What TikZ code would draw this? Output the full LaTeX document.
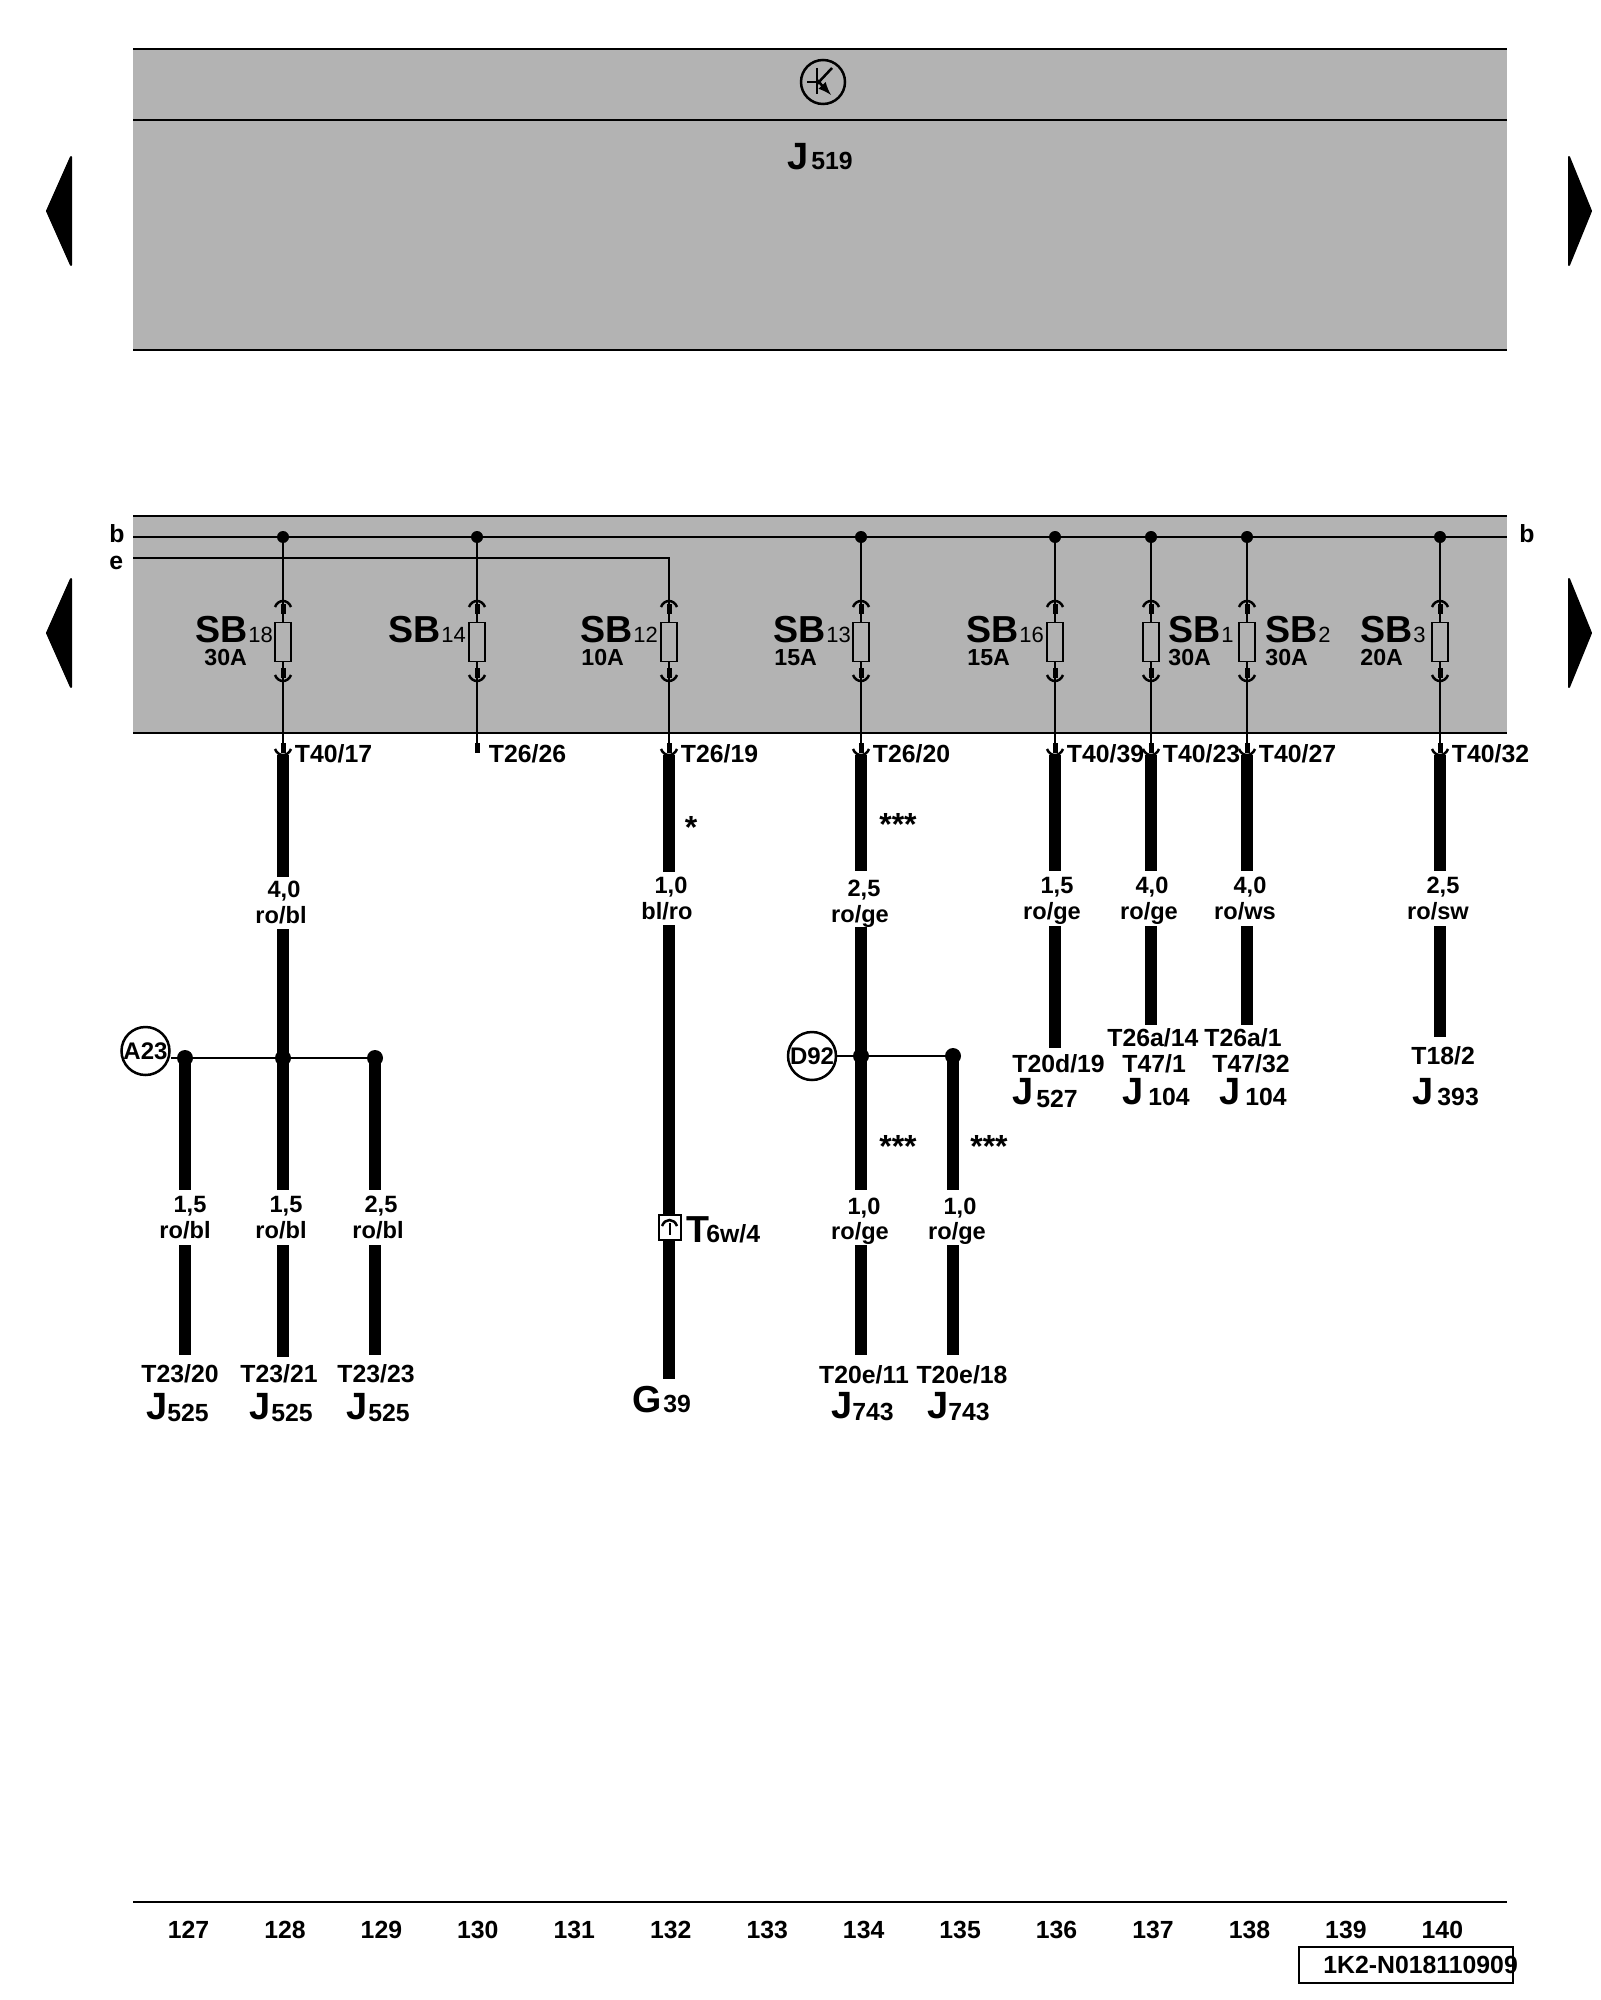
\documentclass[tikz,border=0pt]{standalone}
\usepackage{fontspec}
\setmainfont{Liberation Sans}
\definecolor{bandgray}{HTML}{B3B3B3}
\tikzset{
    thin line/.style={line width=1.25pt},
    wire/.style={line width=6pt},
    stub/.style={line width=2.5pt},
    band/.style={fill=bandgray},
    lbl/.style={inner sep=0pt, font=\bfseries\fontsize{12.4}{12}\selectfont},
    lblbase/.style={lbl, anchor=base},
    lblwest/.style={lbl, anchor=base west},
    seclbl/.style={inner sep=0pt, anchor=base, font=\bfseries\fontsize{11.8}{12}\selectfont},
    starlbl/.style={inner sep=0pt, anchor=base, font=\bfseries\fontsize{16}{16}\selectfont},
    big/.style={inner sep=0pt, anchor=base west, font=\bfseries\fontsize{19}{19}\selectfont},
    sblbl/.style={inner sep=0pt, anchor=base west, font=\bfseries\fontsize{18.8}{20}\selectfont},
    idx/.style={inner sep=0pt, anchor=base west, font=\fontsize{11}{11}\selectfont},
    amplbl/.style={inner sep=0pt, anchor=base west, font=\bfseries\fontsize{11.6}{12}\selectfont},
    fuse/.style={draw, line width=0.75pt, minimum width=8pt, minimum height=19.5pt, inner sep=0pt},
    dot/.style={circle, fill=black, inner sep=0pt, minimum size=6pt},
    bigdot/.style={circle, fill=black, inner sep=0pt, minimum size=8pt},
    ringlbl/.style={circle, draw, thin line, inner sep=0pt, minimum size=24pt, font=\bfseries\fontsize{12}{12}\selectfont},
    sidetip/.style={fill=black, draw=black, line width=1pt, line join=round}
}
\begin{document}
\begin{tikzpicture}[x=0.5pt, y=-0.5pt]
    \useasboundingbox (0,0) rectangle (1600,2000);
    % grey bands
    \fill[band] (133,49) rectangle (1507,350);
    \fill[band] (133,516) rectangle (1507,733);
    \draw[thin line] (133,49)--(1507,49);
    \draw[thin line] (133,120)--(1507,120);
    \draw[thin line] (133,350)--(1507,350);
    \draw[thin line] (133,516)--(1507,516);
    \draw[thin line] (133,733)--(1507,733);
    \draw[thin line] (133,1902)--(1507,1902);
    % arrows at the sides
    \foreach \y in {211,633} {
        \filldraw[sidetip] (47,\y)--(71,\y-54)--(71,\y+54)--cycle;
        \filldraw[sidetip] (1591,\y)--(1569,\y-54)--(1569,\y+54)--cycle;
    }
    % control unit
    \node[circle, draw, thin line, minimum size=22pt, inner sep=0pt] (ctrl) at (823,82) {};
    \draw[thin line] (807,82)--(817,82);
    \draw[thin line] (817,68)--(817,94);
    \draw[thin line] (817,84)--(832,68);
    \draw[-latex, thin line] (817,80)--(831,95);
    \node[big] (jmain) at (787,170) {J};
    \node[lblwest] (jmainno) at (811,170) {519};
    % bus lines
    \coordinate (busbl) at (133,537);
    \coordinate (busbr) at (1507,537);
    \coordinate (ebusl) at (133,558);
    \coordinate (ebusr) at (669,558);
    \draw[thin line] (busbl)--(busbr);
    \node[lblwest] (lblbl) at (109,542) {b};
    \node[lblwest] (lblel) at (109,569) {e};
    \node[lblwest] (lblbr) at (1519,542) {b};
    % fuses
    \foreach \n/\x/\sbx/\sbi/\ax/\amp/\tname in {
        a/283/195/18/204/30A/{T40/17},
        b/477/388/14/0/{}/{T26/26},
        c/669/580/12/581/10A/{T26/19},
        d/861/773/13/774/15A/{T26/20},
        e/1055/966/16/967/15A/{T40/39},
        f/1151/1168/1/1168/30A/{T40/23},
        g/1247/1265/2/1265/30A/{T40/27},
        h/1440/1360/3/1360/20A/{T40/32}} {
        \node[fuse] (fuse\n) at (\x,642) {};
        \coordinate (top\n) at (\x,614);
        \coordinate (low\n) at (\x,668);
        \coordinate (term\n) at (\x,743);
        \draw[thin line] (top\n)--(fuse\n.north);
        \draw[thin line] (fuse\n.south)--(low\n);
        \draw[thin line] (low\n)--(term\n);
        \draw[stub] (\x,604)--(top\n);
        \draw[stub] (low\n)--(\x,678);
        \draw[stub] (term\n)--(\x,753);
        \draw[thin line] (\x-8,607) .. controls (\x-5,599) and (\x+5,599) .. (\x+8,607);
        \draw[thin line] (\x-8,675) .. controls (\x-5,683) and (\x+5,683) .. (\x+8,675);
        \node[sblbl] (sb\n) at (\sbx,642) {SB};
        \node[idx] (sbi\n) at (sb\n.base east) {\sbi};
        \node[amplbl] (amp\n) at (\ax,665) {\amp};
        \node[lblwest] (tname\n) at (\x+11.5,762) {\tname};
    }
    % top contacts of the fuses
    \foreach \n/\x in {a/283,b/477,d/861,e/1055,f/1151,g/1247,h/1440} {
        \node[dot] (bus\n) at (\x,537) {};
        \draw[thin line] (bus\n)--(top\n);
    }
    \draw[thin line] (ebusl)--(ebusr)--(topc);
    % lower contacts
    \foreach \n/\x in {a/283,c/669,d/861,e/1055,f/1151,g/1247,h/1440}
        \draw[thin line] (\x-8,749) .. controls (\x-5,757) and (\x+5,757) .. (\x+8,749);
    % thick wires
    \foreach \n/\x/\ya/\yb in {
        a/283/755/877, b/283/929/1190, c/283/1245/1357,
        d/185/1058/1190, e/185/1245/1355,
        f/375/1058/1190, g/375/1245/1355,
        h/669/755/872, i/669/925/1379,
        j/861/755/871, k/861/927/1190, l/861/1245/1355,
        m/953/1056/1190, o/953/1245/1355,
        p/1055/755/871, q/1055/926/1048,
        r/1151/755/871, s/1151/926/1025,
        t/1247/755/871, u/1247/926/1025,
        v/1440/755/871, w/1440/926/1037} {
        \coordinate (wa\n) at (\x,\ya);
        \coordinate (wb\n) at (\x,\yb);
        \draw[wire] (wa\n)--(wb\n);
    }
    % junctions
    \node[ringlbl] (ringa) at (145.5,1051) {A23};
    \node[bigdot] (ja) at (185,1058) {};
    \node[bigdot] (jb) at (283,1058) {};
    \node[bigdot] (jc) at (375,1058) {};
    \draw[thin line] (ja -| ringa.east)--(jc);
    \node[ringlbl] (ringd) at (812,1056) {D92};
    \node[bigdot] (jd) at (861,1056) {};
    \node[bigdot] (je) at (953,1056) {};
    \draw[thin line] (ringd)--(je);
    % inline connector
    \node[draw, thin line, fill=white, minimum width=11pt, minimum height=12.5pt, inner sep=0pt] (conn) at (670,1227.5) {};
    \draw[line width=1pt] (669.5,1235)--(669.5,1223);
    \draw[thin line] (662,1226) .. controls (665,1218) and (674,1218) .. (677,1226);
    \node[sblbl] (connt) at (686,1242) {T};
    \node[lblwest] (conni) at (706,1242) {6w/4};
    % cross section and colour of the wires
    \foreach \n/\x/\y/\txt in {
        a/284/897/{4,0}, b/281/923/{ro/bl},
        c/190/1212/{1,5}, d/185/1238/{ro/bl},
        e/286/1212/{1,5}, f/281/1238/{ro/bl},
        g/381/1212/{2,5}, h/378/1238/{ro/bl},
        i/671/893/{1,0}, j/667/919/{bl/ro},
        k/864/896/{2,5}, l/860/922/{ro/ge},
        m/864/1214/{1,0}, o/860/1239/{ro/ge},
        p/960/1214/{1,0}, q/957/1239/{ro/ge},
        r/1057/893/{1,5}, s/1052/919/{ro/ge},
        t/1152/893/{4,0}, u/1149/919/{ro/ge},
        v/1250/893/{4,0}, w/1245/919/{ro/ws},
        x/1443/893/{2,5}, y/1438/919/{ro/sw}}
        \node[seclbl] (sec\n) at (\x,\y) {\txt};
    \node[starlbl] (stara) at (691,838) {*};
    \node[starlbl] (starb) at (898,835) {***};
    \node[starlbl] (starc) at (898,1157) {***};
    \node[starlbl] (stard) at (989,1157) {***};
    % terminal pins
    \foreach \n/\x/\y/\txt in {
        a/180/1382/{T23/20}, b/279/1382/{T23/21}, c/376/1382/{T23/23},
        d/864/1383/{T20e/11}, e/962/1383/{T20e/18}}
        \node[lblbase] (pin\n) at (\x,\y) {\txt};
    \foreach \n/\x/\y/\txt in {
        f/1012/1072/{T20d/19}, g/1107/1046/{T26a/14}, h/1122/1072/{T47/1},
        i/1204/1046/{T26a/1}, j/1212/1072/{T47/32}, k/1411/1064/{T18/2}}
        \node[lblwest] (pin\n) at (\x,\y) {\txt};
    % components
    \foreach \n/\x/\y/\nx/\ny/\txt in {
        a/146/1419/167/1421/525, b/249/1419/271/1421/525, c/346/1419/368/1421/525,
        d/831/1418/852/1420/743, e/927/1418/948/1420/743,
        f/1012/1104/1036/1107/527, g/1122/1104/1148/1105/104,
        h/1219/1104/1245/1105/104, i/1412/1104/1437/1105/393} {
        \node[big] (comp\n) at (\x,\y) {J};
        \node[lblwest] (compno\n) at (\nx,\ny) {\txt};
    }
    \node[sblbl] (compg) at (632,1412) {G};
    \node[lblwest] (compgno) at (663,1412) {39};
    % current track numbers
    \foreach \i [evaluate=\i as \xpos using 188.5+(\i-127)*96.45] in {127,...,140}
        \node[lblbase] (track\i) at (\xpos,1938) {\i};
    \node[draw, thin line, minimum width=107pt, minimum height=18pt, inner sep=0pt] (docbox) at (1406,1965) {};
    \node[lblwest] (doctxt) at (1323,1973) {1K2-N018110909};
\end{tikzpicture}
\end{document}
